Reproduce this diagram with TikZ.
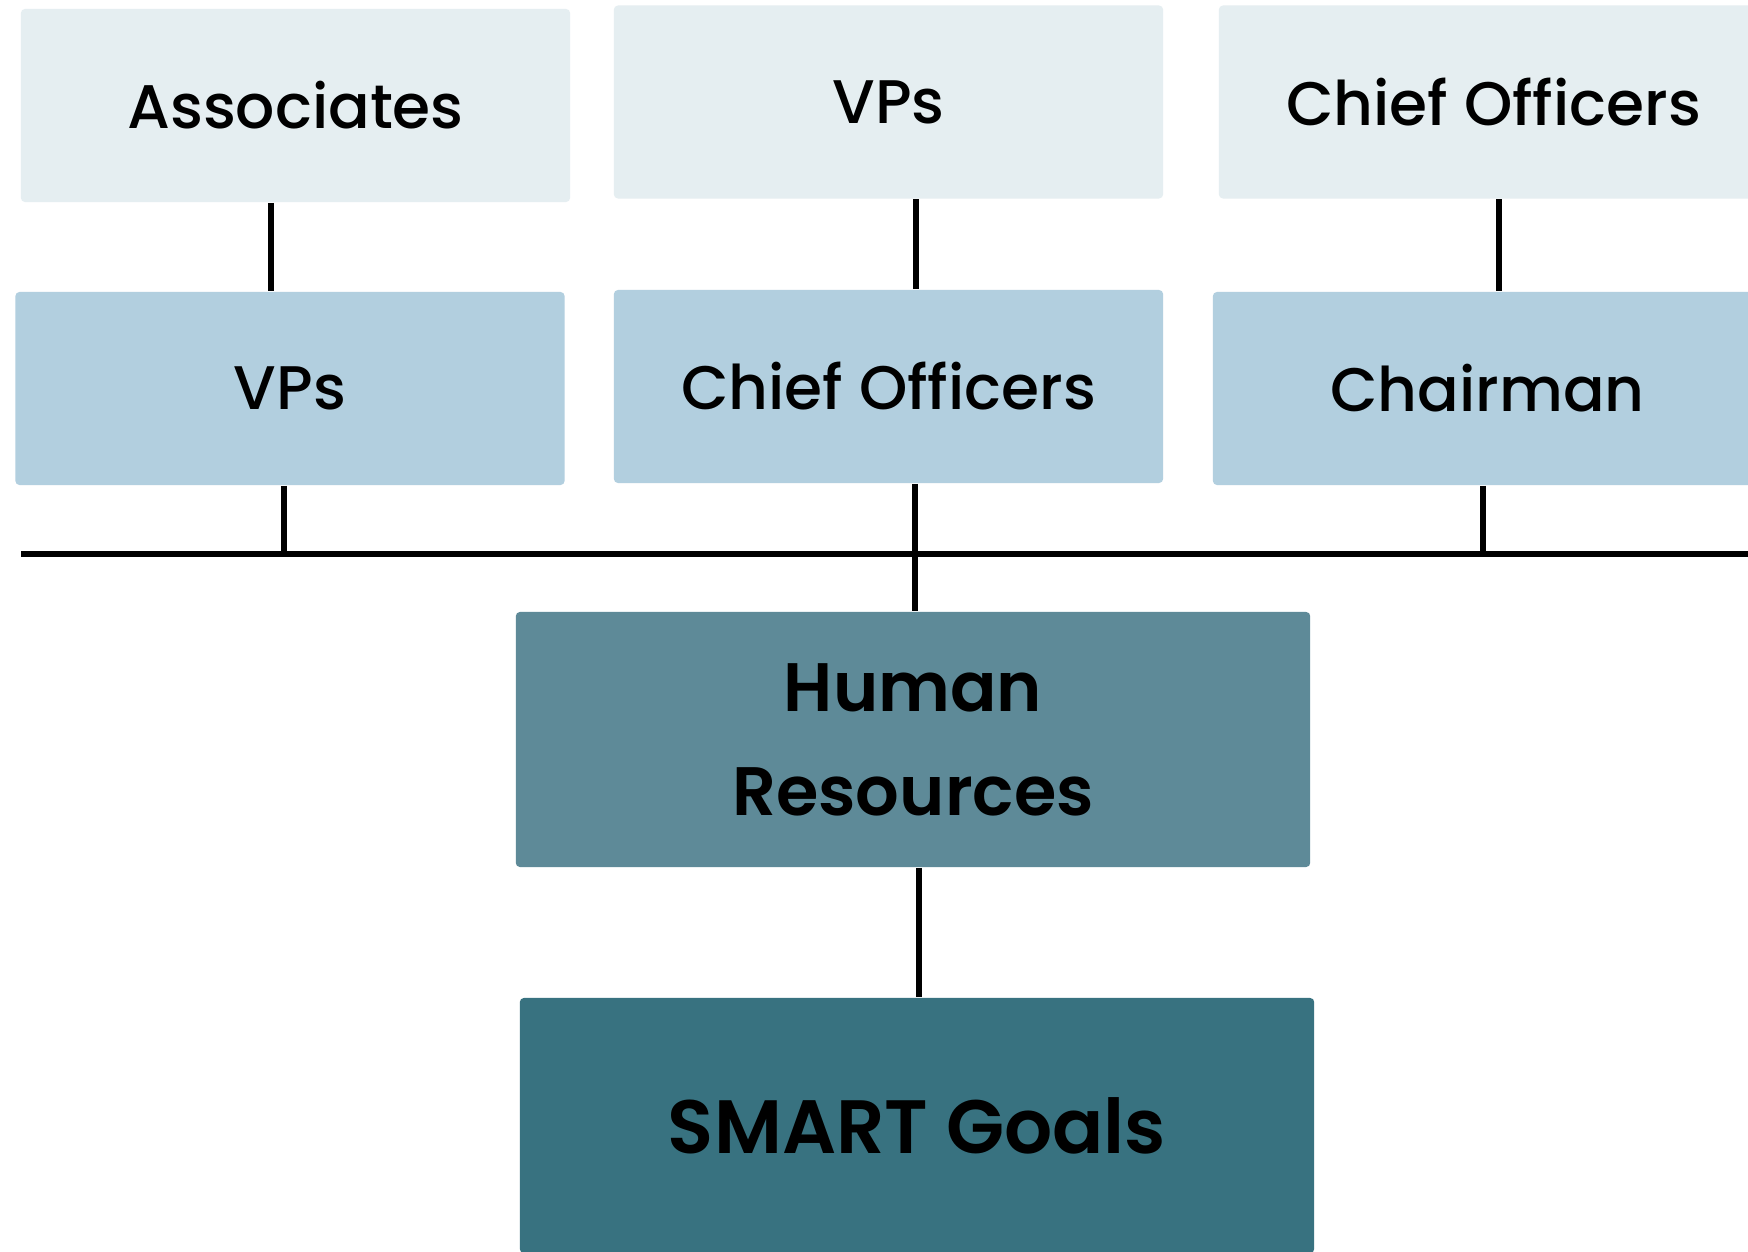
\documentclass[tikz,border=0pt]{standalone}
\usepackage{fontspec}
\setmainfont{Poppins}
\newfontfamily\rolefont{Poppins Medium}
\newfontfamily\basefont{Poppins SemiBold}
\usetikzlibrary{calc}
\definecolor{tierTop}{HTML}{E5EEF1}
\definecolor{tierMid}{HTML}{B2CFDF}
\definecolor{tierHR}{HTML}{5E8A98}
\definecolor{tierGoal}{HTML}{387280}
\begin{document}
\begin{tikzpicture}[x=0.01cm,y=-0.01cm,
  box/.style={rounded corners=1.2pt, inner sep=0pt, align=center, text=black},
  rolebox/.style={box, minimum width=5.49cm, minimum height=1.93cm,
    font=\rolefont\fontsize{17.5}{21}\selectfont},
  topbox/.style={rolebox, fill=tierTop},
  midbox/.style={rolebox, fill=tierMid},
  basebox/.style={box, minimum width=7.94cm, minimum height=2.55cm},
  hrtext/.style={font=\basefont\fontsize{19.5}{29.6}\selectfont},
  goaltext/.style={font=\basefont\fontsize{21.5}{26}\selectfont},
  conn/.style={line width=1.6pt, draw=black},
  busline/.style={line width=1.8pt, draw=black}]
  \clip (0,0) rectangle (1748,1252);
  \fill[white] (0,0) rectangle (1748,1252);

  % upper tier
  \node[topbox] (a1) at (295.5,105.5) {Associates};
  \node[topbox] (a2) at (888.5,102) {VPs};
  \node[topbox] (a3) at (1493.5,102) {Chief Officers};

  % middle tier
  \node[midbox] (b1) at (290,388.5) {VPs};
  \node[midbox] (b2) at (888.5,386.5) {Chief Officers};
  \node[midbox] (b3) at (1487.5,388.5) {Chairman};

  % lower blocks
  \node[basebox, hrtext, fill=tierHR] (hr) at (913,739.5) {Human\\Resources};
  \node[basebox, goaltext, fill=tierGoal] (goals) at (917,1125.5) {SMART Goals};

  % shared horizontal bus
  \coordinate (busL) at (21,554);
  \coordinate (busR) at (1748,554);
  \draw[busline] (busL) -- (busR);

  % upper to middle
  \draw[conn] ($(a1.south)+(-24.5,0)$) coordinate (p1) -- (p1 |- b1.north);
  \draw[conn] ($(a2.south)+(27.5,0)$) coordinate (p2) -- (p2 |- b2.north);
  \draw[conn] ($(a3.south)+(5.5,0)$) coordinate (p3) -- (p3 |- b3.north);

  % middle to bus
  \draw[conn] ($(b1.south)+(-6,0)$) coordinate (q1) -- (q1 |- busL);
  \draw[conn] ($(b3.south)+(-4.5,0)$) coordinate (q3) -- (q3 |- busL);
  \draw[conn] ($(b2.south)+(26.5,0)$) coordinate (q2) -- (q2 |- hr.north);

  % human resources to goals
  \draw[conn] ($(hr.south)+(6,0)$) coordinate (r1) -- (r1 |- goals.north);
\end{tikzpicture}
\end{document}
